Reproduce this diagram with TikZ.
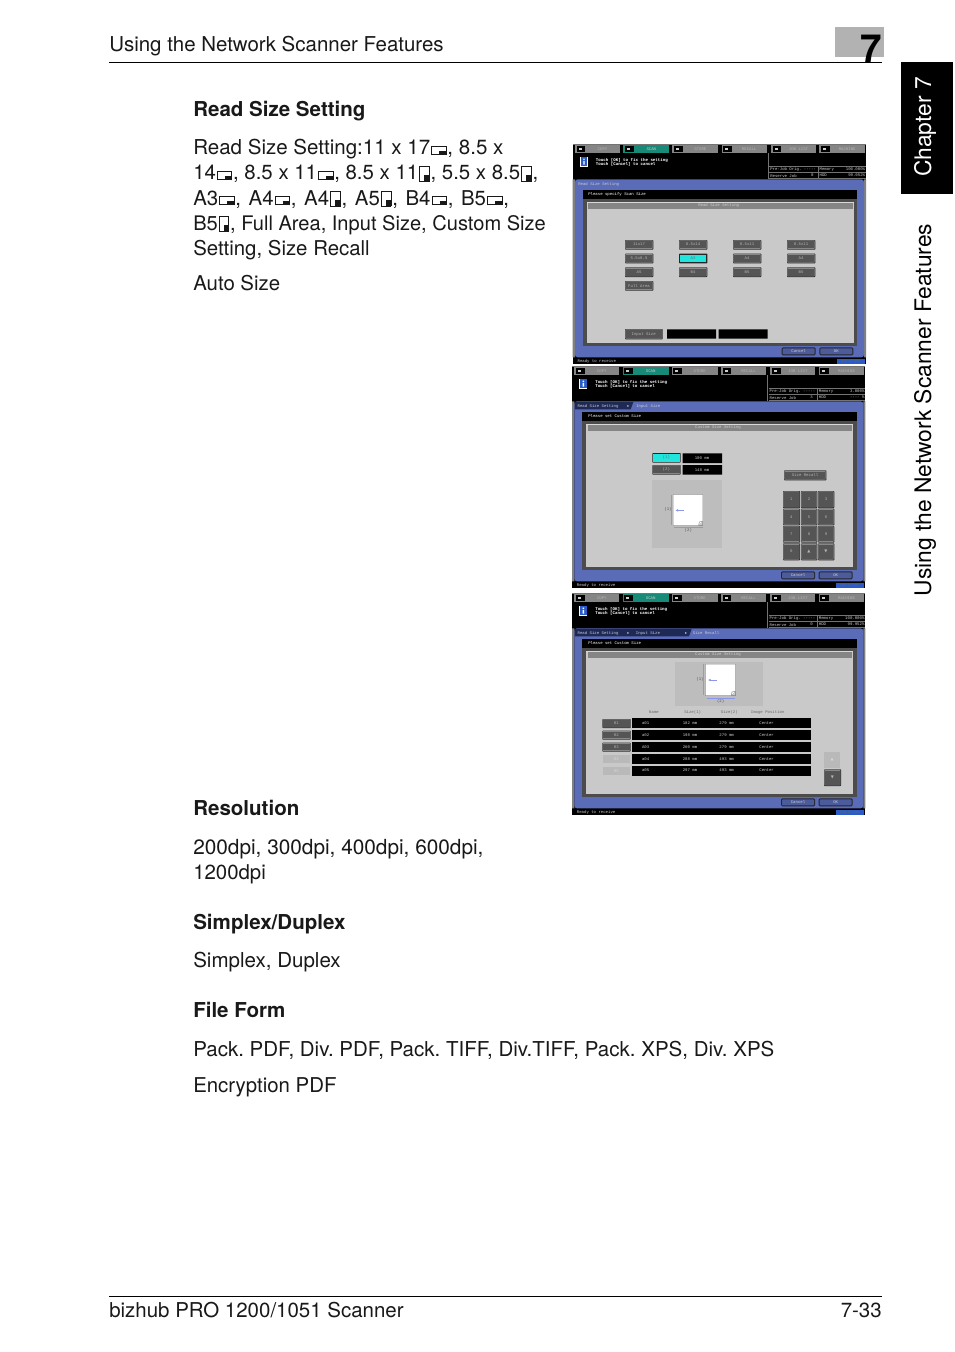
\documentclass[tikz,border=0pt]{standalone}
\usepackage{fontspec}
\setmainfont{TeX Gyre Heros}
\newfontfamily\scrfont{Liberation Mono}
\newfontfamily\symfont{DejaVu Sans}
\usetikzlibrary{arrows.meta}
\frenchspacing
\definecolor{panelblue}{HTML}{5A6BB8}
\definecolor{darkblue}{HTML}{1E2A55}
\definecolor{btn}{HTML}{555555}
\definecolor{btntxt}{HTML}{B4B4B4}
\definecolor{offbtn}{HTML}{B9B9B9}
\definecolor{offtxt}{HTML}{D6D6D6}
\definecolor{inner}{HTML}{C9C9C9}
\definecolor{cyanbtn}{HTML}{22E6DE}
\definecolor{tealtab}{HTML}{178A78}
\definecolor{tabgrey}{HTML}{858585}
\definecolor{arrowblue}{HTML}{8C96E8}
\definecolor{scrtxt}{HTML}{CFCFCF}
\definecolor{pane}{HTML}{BDBDBD}
\definecolor{chapgrey}{HTML}{B2B2B2}
\definecolor{rotblue}{HTML}{2A5BC8}
\newlength\icw \newlength\ich \newlength\iccw \newlength\icch
\newcommand\pgicon[5]{\setlength\icw{#1}\setlength\ich{#2}\setlength\iccw{#3}\setlength\icch{#4}%
 \kern.9pt\raisebox{#5}{\rlap{\rule{\icw}{.7pt}}\rlap{\raisebox{\dimexpr\ich-.5pt}{\rule{\icw}{.5pt}}}\rlap{\rule{.5pt}{\ich}}\rlap{\kern\dimexpr\icw-.5pt\rule{.5pt}{\ich}}\rlap{\kern\dimexpr\icw-\iccw\rule{\iccw}{\icch}}\kern\icw}\kern.8pt}
\newcommand\landic{\pgicon{11.2pt}{7pt}{5.4pt}{3.2pt}{-.2pt}}
\newcommand\portic{\pgicon{7.6pt}{11.8pt}{3.8pt}{5pt}{-1.1pt}}
\tikzset{
 bodytext/.style={anchor=base west,inner sep=0,font=\fontsize{15.3}{18}\selectfont,text=black!90},
 headtext/.style={anchor=base west,inner sep=0,font=\fontsize{15.4}{18}\selectfont\bfseries,text=black!90},
 pagetext/.style={anchor=base west,inner sep=0,font=\fontsize{15.35}{18}\selectfont,text=black!90},
 sidetext/.style={inner sep=0,rotate=90,font=\fontsize{17.1}{18}\selectfont},
 scrw/.style={anchor=west,inner sep=0,font=\scrfont\fontsize{3}{3.5}\selectfont,text=scrtxt},
 scrc/.style={inner sep=0,font=\scrfont\fontsize{3}{3.5}\selectfont,text=scrtxt},
}
% button x1 y1 x2 y2 label
\newcommand\scrbtn[5]{\fill[black!85,rounded corners=.5pt] (#1-1,#2-1) rectangle (#3+2,#4+2);
 \fill[btn!70!white,rounded corners=.4pt] (#1,#2) rectangle (#3,#4);
 \fill[btn] (#1+2,#2+3) rectangle (#3-1,#4-2);
 \node[scrc,text=btntxt] at ({(#1+#3)/2},{(#2+#4)/2}) {#5};}
\newcommand\cyanb[5]{\fill[black!85,rounded corners=.5pt] (#1-1,#2-1) rectangle (#3+2,#4+2);
 \fill[cyanbtn] (#1+1,#2+2) rectangle (#3-1,#4-1);
 \node[scrc,text=black!60] at ({(#1+#3)/2},{(#2+#4)/2}) {#5};}
\newcommand\offb[5]{\fill[offbtn] (#1,#2) rectangle (#3,#4);
 \node[scrc,text=offtxt] at ({(#1+#3)/2},{(#2+#4)/2}) {#5};}
\newcommand\tabbtn[5]{\fill[#5] (#1,16) rectangle (#2,38);
 \fill[black] (#1+5,19) rectangle (#1+31,35);
 \fill[white!80!black] (#1+11,23) rectangle (#1+20,31);
 \node[scrc,text=#4] at ({(#1+#2)/2+15},27) {#3};}
% chrome dx dy memory hdd reserve title bottomoffset
\newcommand\chrome[7]{\begin{scope}[shift={(#1,#2)}]
 \fill[black] (8,12) rectangle (888,{672+#7-#2});
 \fill[black!55] (8,12) rectangle (888,15);
 \tabbtn{15}{150}{COPY}{btntxt}{tabgrey}
 \tabbtn{160}{298}{SCAN}{scrtxt}{tealtab}
 \tabbtn{307}{445}{STORE}{btntxt}{tabgrey}
 \tabbtn{455}{590}{RECALL}{btntxt}{tabgrey}
 \tabbtn{603}{738}{JOB LIST}{btntxt}{tabgrey}
 \tabbtn{748}{885}{MACHINE}{btntxt}{tabgrey}
 \fill[white] (30,50) rectangle (54,80);
 \fill[rotblue] (32,52) rectangle (52,78);
 \fill[white] (40,56) rectangle (44,60) (40,63) rectangle (44,74);
 \node[scrw,text=white,font=\scrfont\bfseries\fontsize{3.1}{3.5}\selectfont] at (77,60) {Touch [OK] to fix the setting};
 \node[scrw,text=white,font=\scrfont\bfseries\fontsize{3.1}{3.5}\selectfont] at (77,74) {Touch [Cancel] to cancel};
 \draw[black!55,line width=.35pt] (595,40) -- (595,118) (598,78) -- (888,78) (598,97) -- (888,97) (745,78) -- (745,116) (598,116) -- (888,116);
 \node[scrw] at (600,88) {Pre-Job Orig. -----};
 \node[scrw] at (600,107) {Reserve Job};
 \node[scrc] at (727,107) {#5};
 \node[scrw] at (748,88) {Memory};
 \node[scrw] at (748,107) {HDD};
 \node[scrc,anchor=east] at (886,88) {#3};
 \node[scrc,anchor=east] at (886,107) {#4};
 \fill[black!50] (8,118) rectangle (15,{652+#7-#2}) (882,118) rectangle (888,{652+#7-#2});
 \fill[panelblue,rounded corners=2pt] (15,118) rectangle (882,{652+#7-#2});
 \fill[black] (38,150) rectangle (862,178);
 \fill[black!70] (38,178) rectangle (862,{618+#7-#2});
 \fill[inner] (50,185) rectangle (852,{610+#7-#2});
 \fill[white!85!black] (50,185) rectangle (852,188);
 \fill[black!48] (55,188) rectangle (848,207);
 \node[scrc] at (446,195) {#6};
 \begin{scope}[shift={(0,{#7-#2})}]
 \scrbtnblue{635}{622}{737}{646}{Cancel}
 \scrbtnblue{748}{622}{850}{646}{OK}
 \fill[rotblue] (800,656) rectangle (885,671);
 \node[scrc,text=black!60] at (842,663) {Rotation};
 \node[scrw] at (22,664) {Ready to receive};
 \end{scope}
\end{scope}}
\newcommand\scrbtnblue[5]{\fill[black!85,rounded corners=1pt] (#1,#2) rectangle (#3,#4);
 \fill[panelblue!85!black,rounded corners=.6pt] (#1+3,#2+3) rectangle (#3-3,#4-3);
 \node[scrc] at ({(#1+#3)/2},{(#2+#4)/2}) {#5};}
\newcommand\paper[4]{% x1 y1 x2 y2
 \fill[black!45] (#1-1,#2-1) rectangle (#3+1,#4+1);
 \fill[white] (#1,#2) -- (#3,#2) -- (#3,#4-12) -- (#3-12,#4) -- (#1,#4) -- cycle;
 \fill[inner] (#3-11,#4-1) -- (#3-1,#4-1) -- (#3-1,#4-11) -- cycle;
 \draw[black!60,line width=.3pt] (#3-12,#4) -- (#3-10,#4-10) -- (#3,#4-12);}
\begin{document}
\begin{tikzpicture}[x=.75pt,y=-.75pt]
\useasboundingbox (0,0) rectangle (954,1352);
\fill[white] (0,0) rectangle (954,1352);
% page furniture
\fill[chapgrey] (835,27) rectangle (884,57);
\node[inner sep=0,anchor=base east,font=\fontsize{29}{30}\selectfont\bfseries] (bignum) at (882,63) {7};
\draw[line width=.75pt] (109,63) -- (882,63);
\draw[line width=.75pt] (109,1296) -- (882,1296);
\node[pagetext] (runhead) at (109,52) {Using the Network Scanner Features};
\node[pagetext] (foot) at (109,1317) {bizhub PRO 1200/1051 Scanner};
\node[pagetext,anchor=base east] (pageno) at (882,1317) {7-33};
\fill[black] (901,62) rectangle (953,194);
\node[sidetext,text=white] (chap) at (925,127) {Chapter 7};
\node[sidetext] (sidettl) at (925,410) {Using the Network Scanner Features};
% body
\node[headtext] (h1) at (193,117) {Read Size Setting};
\node[bodytext,font=\fontsize{15.4}{18}\selectfont] (l1) at (193,155) {Read Size Setting:11 x 17\landic, 8.5 x};
\node[bodytext] (l2) at (193,180) {14\landic, 8.5 x 11\landic, 8.5 x 11\portic, 5.5 x 8.5\portic,};
\node[bodytext] (l3) at (193,205) {\spaceskip=5.75pt A3\landic, A4\landic, A4\portic, A5\portic, B4\landic, B5\landic,};
\node[bodytext,font=\fontsize{15.05}{18}\selectfont] (l4) at (193,230) {B5\portic, Full Area, Input Size, Custom Size};
\node[bodytext] (l5) at (193,255) {Setting, Size Recall};
\node[bodytext] (l6) at (193,290) {Auto Size};
\node[headtext] (h2) at (193,815) {Resolution};
\node[bodytext,font=\fontsize{15.6}{18}\selectfont] (r1) at (193,854) {200dpi, 300dpi, 400dpi, 600dpi,};
\node[bodytext] (r2) at (193,879) {1200dpi};
\node[headtext] (h3) at (193,929) {Simplex/Duplex};
\node[bodytext,font=\fontsize{15.4}{18}\selectfont] (s1) at (193,967) {Simplex, Duplex};
\node[headtext] (h4) at (193,1017) {File Form};
\node[bodytext,font=\fontsize{15.38}{18}\selectfont] (f1) at (193,1056) {Pack. PDF, Div. PDF, Pack. TIFF, Div.TIFF, Pack. XPS, Div. XPS};
\node[bodytext] (f2) at (193,1092) {Encryption PDF};
% screen 1
\begin{scope}[shift={(570,140)},x=.25pt,y=-.25pt]
\chrome{0}{0}{100.000\%}{99.952\%}{0}{Read Size Setting}{0}
\node[scrw] at (24,132) {Read Size Setting};
\node[scrw,text=white] at (54,163) {Please specify Scan Size};
\scrbtn{166}{301}{248}{327}{11x17}
\scrbtn{328}{301}{410}{327}{8.5x14}
\scrbtn{490}{301}{572}{327}{8.5x11}
\scrbtn{652}{301}{734}{327}{8.5x11}
\scrbtn{166}{342}{248}{368}{5.5x8.5}
\cyanb{328}{342}{410}{368}{A3}
\scrbtn{490}{342}{572}{368}{A4}
\scrbtn{652}{342}{734}{368}{A4}
\scrbtn{166}{383}{248}{409}{A5}
\scrbtn{328}{383}{410}{409}{B4}
\scrbtn{490}{383}{572}{409}{B5}
\scrbtn{652}{383}{734}{409}{B5}
\scrbtn{166}{424}{248}{450}{Full Area}
\scrbtn{166}{568}{276}{596}{Input Size}
\fill[black] (291,568) rectangle (438,596) (446,568) rectangle (593,596);
\end{scope}
% screen 2
\begin{scope}[shift={(570,364)},x=.25pt,y=-.25pt]
\chrome{-2}{-6}{3.000\%}{---- \%}{3}{Custom Size Setting}{0}
\fill[darkblue] (15,114) -- (190,114) -- (182,136) -- (15,136) -- cycle;
\node[scrw] at (22,126) {Read Size Setting};
\node[scrc] at (175,127) {\symfont ▸};
\node[scrw] at (198,126) {Input Size};
\node[scrw,text=white] at (54,157) {Please set Custom Size};
\cyanb{248}{268}{330}{294}{(1)}
\scrbtn{248}{304}{330}{330}{(2)}
\fill[black] (338,268) rectangle (456,297) (338,303) rectangle (456,332);
\node[scrc] at (396,284) {100 mm};
\node[scrc] at (396,319) {148 mm};
\fill[pane] (247,347) rectangle (456,552);
\paper{310}{392}{398}{484}
\draw[arrowblue,line width=.4pt] (303,392) -- (303,482) (312,491) -- (398,491);
\draw[arrowblue,line width=.7pt,-{Latex[length=2pt,width=2pt]}] (341,439) -- (316,439);
\node[scrc,text=black!70] at (294,435) {(1)};
\node[scrc,text=black!70] at (355,500) {(2)};
\scrbtn{643}{320}{767}{347}{Size Recall}
\scrbtn{640}{382}{688}{430}{1}\scrbtn{694}{382}{740}{430}{2}\scrbtn{745}{382}{791}{430}{3}
\scrbtn{640}{435}{688}{482}{4}\scrbtn{694}{435}{740}{482}{5}\scrbtn{745}{435}{791}{482}{6}
\scrbtn{640}{487}{688}{534}{7}\scrbtn{694}{487}{740}{534}{8}\scrbtn{745}{487}{791}{534}{9}
\scrbtn{640}{539}{688}{587}{0}\scrbtn{694}{539}{740}{587}{\symfont ▲}\scrbtn{745}{539}{791}{587}{\symfont ▼}
\end{scope}
% screen 3
\begin{scope}[shift={(570,590)},x=.25pt,y=-.25pt]
\chrome{-2}{-3}{100.000\%}{99.952\%}{0}{Custom Size Setting}{3}
\fill[darkblue] (15,117) -- (365,117) -- (357,139) -- (15,139) -- cycle;
\node[scrw] at (22,129) {Read Size Setting};
\node[scrc] at (175,130) {\symfont ▸};
\node[scrw] at (197,129) {Input Size};
\node[scrc] at (348,130) {\symfont ▸};
\node[scrw] at (368,129) {Size Recall};
\node[scrw,text=white] at (54,160) {Please set Custom Size};
\fill[pane] (316,217) rectangle (579,348);
\paper{407}{223}{496}{316}
\draw[arrowblue,line width=.4pt] (400,223) -- (400,316) (410,324) -- (496,324);
\draw[arrowblue,line width=.7pt,-{Latex[length=2pt,width=2pt]}] (440,270) -- (414,270);
\node[scrc,text=black!70] at (390,268) {(1)};
\node[scrc,text=black!70] at (452,334) {(2)};
\node[scrc,text=black!60] at (252,368) {Name};
\node[scrc,text=black!60] at (368,368) {Size(1)};
\node[scrc,text=black!60] at (478,368) {Size(2)};
\node[scrc,text=black!60] at (593,368) {Image Position};
\foreach \yy/\nn/\aa/\sa/\sb in {385/01/a01/182/279,420/02/a02/198/279,456/03/A03/260/279,492/04/a04/288/493,527/05/a05/297/493}{
 \fill[black] (186,\yy) rectangle (724,\yy+30);
 \node[scrc] at (227,\yy+15) {\aa};
 \node[scrc] at (360,\yy+15) {\sa\ mm};
 \node[scrc] at (470,\yy+15) {\sb\ mm};
 \node[scrc] at (590,\yy+15) {Center};
}
\scrbtn{98}{388}{180}{412}{01}
\scrbtn{98}{423}{180}{447}{02}
\scrbtn{98}{459}{180}{483}{03}
\offb{98}{494}{180}{519}{04}
\offb{98}{530}{180}{555}{05}
\offb{762}{486}{811}{533}{\symfont ▲}
\scrbtn{763}{539}{811}{586}{\symfont ▼}
\end{scope}
\end{tikzpicture}
\end{document}
